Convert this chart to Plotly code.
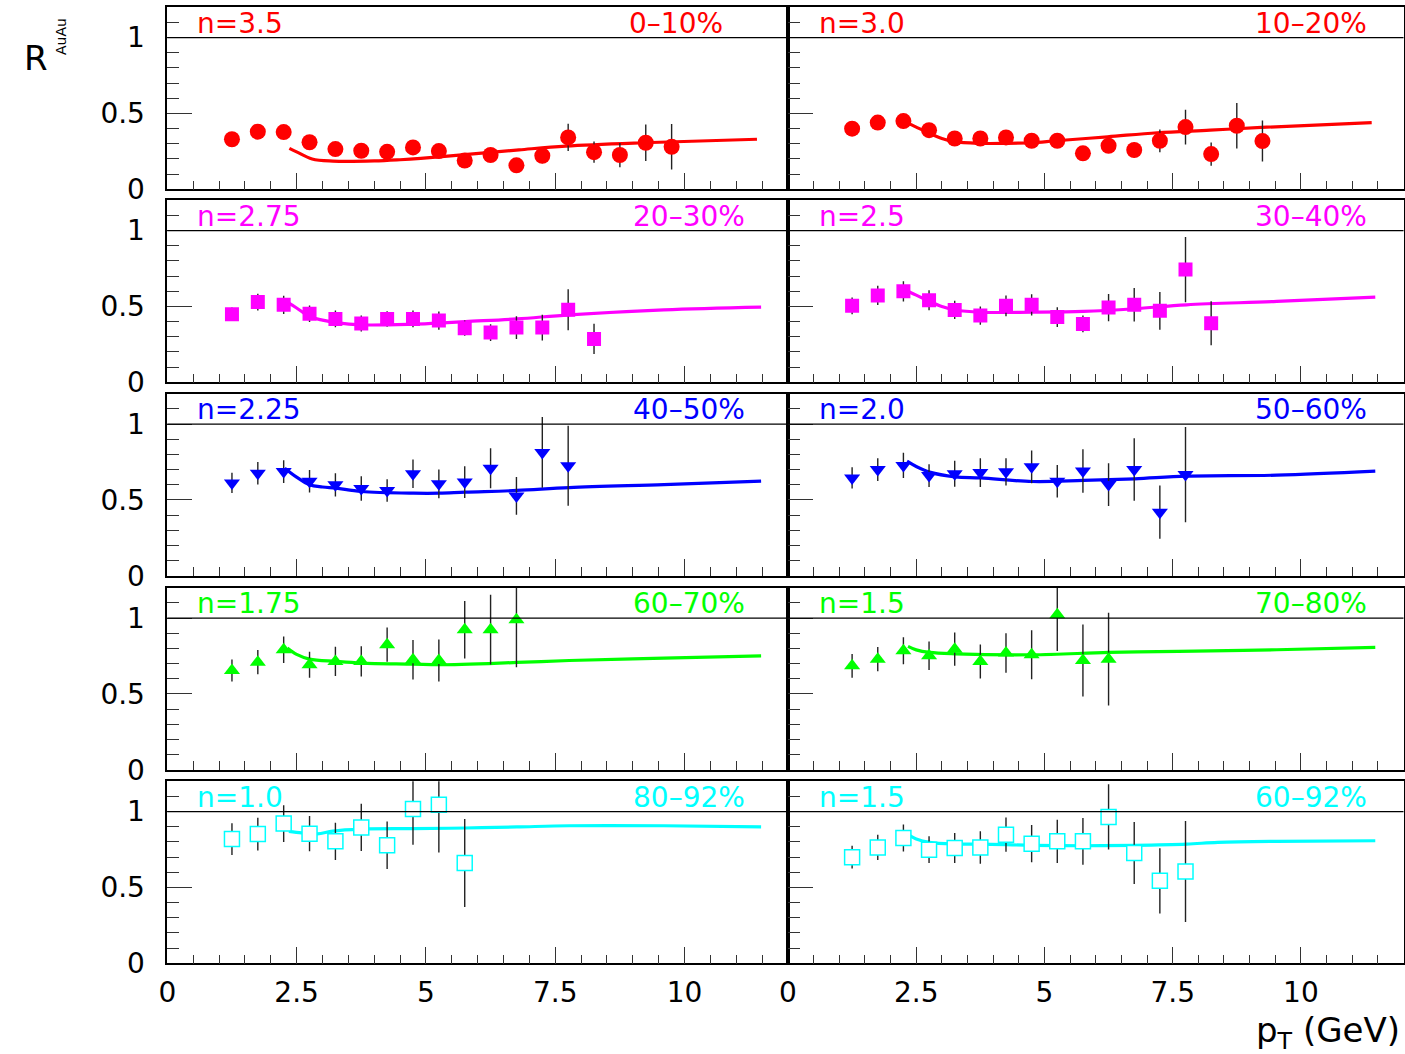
import plotly.graph_objects as go

# ---------------- data ----------------
pt = [1.25, 1.75, 2.25, 2.75, 3.25, 3.75, 4.25, 4.75, 5.25, 5.75,
      6.25, 6.75, 7.25, 7.75, 8.25, 8.75, 9.25, 9.75]

n_labels = ["n=3.5", "n=3.0", "n=2.75", "n=2.5", "n=2.25",
            "n=2.0", "n=1.75", "n=1.5", "n=1.0", "n=1.5"]
cent_labels = ["0–10%", "10–20%", "20–30%", "30–40%", "40–50%",
               "50–60%", "60–70%", "70–80%", "80–92%", "60–92%"]

# measured R_AuAu
raa_0_10 = [0.33, 0.38, 0.377, 0.31, 0.265, 0.254, 0.247, 0.276, 0.252, 0.19,
            0.226, 0.158, 0.221, 0.342, 0.245, 0.226, 0.307, 0.28]
err_0_10 = [0.03, 0.03, 0.04, 0.03, 0.03, 0.03, 0.03, 0.03, 0.03, 0.03,
            0.035, 0.035, 0.05, 0.09, 0.07, 0.08, 0.12, 0.15]
raa_10_20 = [0.40, 0.44, 0.45, 0.39, 0.335, 0.335, 0.342, 0.32, 0.32, 0.237,
             0.287, 0.259, 0.32, 0.41, 0.232, 0.419, 0.318]
err_10_20 = [0.04, 0.045, 0.05, 0.04, 0.04, 0.04, 0.04, 0.04, 0.045, 0.04,
             0.045, 0.05, 0.075, 0.115, 0.077, 0.15, 0.135]
raa_20_30 = [0.449, 0.529, 0.511, 0.452, 0.418, 0.388, 0.418, 0.418, 0.407, 0.357,
             0.328, 0.361, 0.361, 0.478, 0.286]
err_20_30 = [0.045, 0.055, 0.06, 0.055, 0.055, 0.053, 0.05, 0.055, 0.06, 0.05,
             0.055, 0.075, 0.085, 0.135, 0.10]
raa_30_40 = [0.504, 0.573, 0.60, 0.541, 0.477, 0.44, 0.504, 0.511, 0.43, 0.385,
             0.493, 0.511, 0.471, 0.743, 0.39]
err_30_40 = [0.055, 0.064, 0.067, 0.066, 0.06, 0.06, 0.068, 0.07, 0.065, 0.055,
             0.09, 0.11, 0.125, 0.215, 0.145]
raa_40_50 = [0.612, 0.676, 0.687, 0.623, 0.599, 0.575, 0.562, 0.672, 0.606, 0.617,
             0.709, 0.526, 0.813, 0.725]
err_40_50 = [0.066, 0.074, 0.075, 0.074, 0.077, 0.08, 0.074, 0.094, 0.095, 0.105,
             0.132, 0.124, 0.233, 0.264]
raa_50_60 = [0.645, 0.70, 0.727, 0.66, 0.672, 0.68, 0.685, 0.718, 0.623, 0.69,
             0.601, 0.70, 0.419, 0.667]
err_50_60 = [0.07, 0.075, 0.083, 0.075, 0.086, 0.095, 0.09, 0.108, 0.107, 0.143,
             0.141, 0.206, 0.176, 0.314]
raa_60_70 = [0.654, 0.709, 0.791, 0.692, 0.714, 0.714, 0.824, 0.725, 0.72, 0.923,
             0.923, 0.989]
err_60_70 = [0.072, 0.08, 0.088, 0.085, 0.097, 0.10, 0.113, 0.13, 0.138, 0.19,
             0.23, 0.313]
raa_70_80 = [0.685, 0.729, 0.784, 0.751, 0.795, 0.714, 0.769, 0.758, 1.022, 0.72,
             0.729]
err_70_80 = [0.078, 0.08, 0.089, 0.094, 0.11, 0.112, 0.13, 0.162, 0.24, 0.237,
             0.306]
raa_80_92 = [0.819, 0.852, 0.921, 0.855, 0.804, 0.896, 0.778, 1.018, 1.046, 0.661]
err_80_92 = [0.105, 0.108, 0.121, 0.116, 0.123, 0.156, 0.157, 0.236, 0.315, 0.29]
raa_60_92 = [0.70, 0.764, 0.826, 0.749, 0.76, 0.764, 0.848, 0.789, 0.804, 0.804,
             0.965, 0.727, 0.544, 0.606]
err_60_92 = [0.075, 0.083, 0.089, 0.088, 0.099, 0.107, 0.113, 0.123, 0.143, 0.154,
             0.215, 0.204, 0.215, 0.333]

# model curves
cx_0_10 = [2.36, 2.5, 2.8, 3.2, 4.0, 4.5, 4.9, 5.8, 6.8, 7.7, 9.2, 11.4]
cy_0_10 = [0.27, 0.247, 0.20, 0.186, 0.187, 0.195, 0.204, 0.23, 0.26, 0.285, 0.307, 0.33]
cx_10_20 = [2.29, 2.5, 2.75, 3.0, 3.24, 3.74, 4.24, 4.74, 5.23, 6.23, 7.2, 8.23, 9.23, 11.38]
cy_10_20 = [0.445, 0.41, 0.37, 0.335, 0.314, 0.303, 0.303, 0.307, 0.32, 0.346, 0.373, 0.39, 0.408, 0.439]
cx_20_30 = [2.32, 2.5, 2.75, 3.0, 3.26, 3.75, 4.76, 5.26, 5.76, 6.76, 7.77, 9.6, 11.48]
cy_20_30 = [0.528, 0.49, 0.434, 0.41, 0.394, 0.379, 0.383, 0.39, 0.40, 0.418, 0.445, 0.478, 0.496]
cx_30_40 = [2.23, 2.5, 2.76, 3.0, 3.26, 3.76, 4.76, 5.76, 6.76, 7.77, 9.53, 11.45]
cy_30_40 = [0.615, 0.575, 0.533, 0.50, 0.477, 0.462, 0.462, 0.467, 0.485, 0.511, 0.533, 0.562]
cx_40_50 = [2.27, 2.5, 2.75, 3.0, 3.26, 3.75, 4.76, 5.26, 5.76, 6.76, 7.77, 9.6, 11.48]
cy_40_50 = [0.709, 0.65, 0.60, 0.585, 0.577, 0.555, 0.544, 0.544, 0.551, 0.562, 0.581, 0.601, 0.623]
cx_50_60 = [2.32, 2.5, 2.76, 3.26, 3.76, 4.76, 5.76, 6.76, 7.77, 9.53, 11.45]
cy_50_60 = [0.755, 0.72, 0.683, 0.652, 0.645, 0.621, 0.628, 0.639, 0.656, 0.663, 0.689]
cx_60_70 = [2.32, 2.5, 2.75, 3.26, 3.75, 4.76, 5.26, 6.76, 7.77, 9.6, 11.48]
cy_60_70 = [0.802, 0.76, 0.729, 0.714, 0.703, 0.696, 0.692, 0.707, 0.72, 0.736, 0.751]
cx_70_80 = [2.34, 2.5, 2.76, 3.26, 4.76, 6.26, 7.61, 9.53, 11.45]
cy_70_80 = [0.813, 0.79, 0.773, 0.764, 0.758, 0.773, 0.78, 0.791, 0.806]
cx_80_92 = [2.35, 2.6, 2.9, 3.2, 3.75, 4.76, 5.76, 6.76, 7.77, 9.6, 11.48]
cy_80_92 = [0.87, 0.86, 0.853, 0.872, 0.885, 0.888, 0.892, 0.899, 0.907, 0.907, 0.90]
cx_60_92 = [2.34, 2.5, 2.76, 3.26, 3.76, 4.76, 5.76, 6.76, 7.77, 8.38, 9.53, 11.45]
cy_60_92 = [0.848, 0.82, 0.797, 0.786, 0.786, 0.778, 0.775, 0.778, 0.786, 0.797, 0.804, 0.808]

panels = [
    (raa_0_10, err_0_10, cx_0_10, cy_0_10),
    (raa_10_20, err_10_20, cx_10_20, cy_10_20),
    (raa_20_30, err_20_30, cx_20_30, cy_20_30),
    (raa_30_40, err_30_40, cx_30_40, cy_30_40),
    (raa_40_50, err_40_50, cx_40_50, cy_40_50),
    (raa_50_60, err_50_60, cx_50_60, cy_50_60),
    (raa_60_70, err_60_70, cx_60_70, cy_60_70),
    (raa_70_80, err_70_80, cx_70_80, cy_70_80),
    (raa_80_92, err_80_92, cx_80_92, cy_80_92),
    (raa_60_92, err_60_92, cx_60_92, cy_60_92),
]

# ---------------- style ----------------
W, H = 1405, 1054
FONT = "DejaVu Sans"
colors = ["#ff0000", "#ff0000", "#ff00ff", "#ff00ff", "#0000ff",
          "#0000ff", "#00ff00", "#00ff00", "#00ffff", "#00ffff"]
symbols = ["circle", "circle", "square", "square", "triangle-down",
           "triangle-down", "triangle-up", "triangle-up", "square", "square"]
col_px = [(167.3, 788.0), (788.0, 1403.5)]
row_px = [(7.3, 189.3), (200.3, 382.3), (393.7, 575.7), (587.7, 769.7), (781.3, 963.3)]

fig = go.Figure()
layout = dict(width=W, height=H, margin=dict(l=0, r=0, t=0, b=0, autoexpand=False),
              paper_bgcolor="white", plot_bgcolor="white", showlegend=False,
              font=dict(family=FONT, color="black"))
shapes, annotations = [], []

for i, (yv, ev, cx, cy) in enumerate(panels):
    r, c = divmod(i, 2)
    k = i + 1
    xs = "" if k == 1 else str(k)
    x0p, x1p = col_px[c]
    t, b = row_px[r]
    col = colors[i]
    xv = pt[:len(yv)]

    fig.add_trace(go.Scatter(x=cx, y=cy, mode="lines", line=dict(color=col, width=3.2, shape="spline"),
                             xaxis="x" + xs, yaxis="y" + xs, hoverinfo="skip"))
    open_sq = i >= 8
    fig.add_trace(go.Scatter(
        x=xv, y=yv, mode="markers",
        error_y=dict(type="data", array=ev, color="#222", thickness=1.4, width=0),
        marker=dict(symbol=symbols[i], size=15 if open_sq else (14 if symbols[i] != "circle" else 16),
                    color="white" if open_sq else col,
                    line=dict(color=col, width=1.5 if open_sq else 0)),
        xaxis="x" + xs, yaxis="y" + xs))

    layout["xaxis" + xs] = dict(
        domain=[x0p / W, x1p / W], range=[0, 12], anchor="y" + xs,
        showline=True, mirror=True, linecolor="black", linewidth=1.5,
        showgrid=False, zeroline=False,
        ticks="inside", ticklen=17, tickwidth=1, tickcolor="#333",
        tick0=0, dtick=2.5,
        minor=dict(dtick=0.5, tick0=0, ticks="inside", ticklen=9, tickwidth=1, tickcolor="#333", showgrid=False),
        showticklabels=(r == 4), tickfont=dict(family=FONT, size=28, color="black"),
        ticklabelstandoff=3, fixedrange=True)
    layout["yaxis" + xs] = dict(
        domain=[1 - b / H, 1 - t / H], range=[0, 1.2], anchor="x" + xs,
        showline=True, mirror=True, linecolor="black", linewidth=1.5,
        showgrid=False, zeroline=False,
        ticks="inside", ticklen=25, tickwidth=1, tickcolor="#333",
        tick0=0, dtick=0.5,
        minor=dict(dtick=0.1, tick0=0, ticks="inside", ticklen=12, tickwidth=1, tickcolor="#333", showgrid=False),
        showticklabels=(c == 0), tickfont=dict(family=FONT, size=28, color="black"),
        ticklabelstandoff=15, fixedrange=True)

    shapes.append(dict(type="line", xref="x" + xs + " domain", yref="y" + xs,
                       x0=0, x1=1, y0=1, y1=1, line=dict(color="black", width=1.2)))

    ty = 1 - (t + 16) / H
    annotations.append(dict(text=n_labels[i], xref="paper", yref="paper",
                            x=(195 if c == 0 else 817) / W, y=ty, xanchor="left", yanchor="middle",
                            showarrow=False, font=dict(family=FONT, size=28, color=col)))
    cxp = (676 if i == 0 else 689) if c == 0 else 1311
    annotations.append(dict(text=cent_labels[i], xref="paper", yref="paper",
                            x=cxp / W, y=ty, xanchor="center", yanchor="middle",
                            showarrow=False, font=dict(family=FONT, size=28, color=col)))

annotations.append(dict(text="R", xref="paper", yref="paper", x=36 / W, y=1 - 58 / H,
                        xanchor="center", yanchor="middle", showarrow=False,
                        font=dict(family=FONT, size=34, color="black")))
annotations.append(dict(text="AuAu", xref="paper", yref="paper", x=61 / W, y=1 - 37 / H,
                        xanchor="center", yanchor="middle", showarrow=False, textangle=-90,
                        font=dict(family=FONT, size=14, color="black")))
annotations.append(dict(text="p<sub>T</sub> (GeV)", xref="paper", yref="paper", x=1402 / W, y=1 - 1032 / H,
                        xanchor="right", yanchor="middle", showarrow=False,
                        font=dict(family=FONT, size=34, color="black")))

layout["shapes"] = shapes
layout["annotations"] = annotations
fig.update_layout(**layout)
fig.write_html("out.html")
